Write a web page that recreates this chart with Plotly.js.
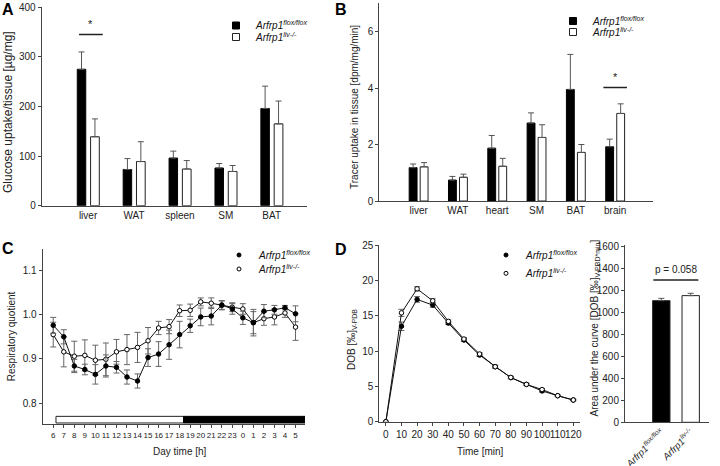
<!DOCTYPE html>
<html>
<head>
<meta charset="utf-8">
<script src="https://cdn.plot.ly/plotly-3.0.1.min.js"></script>
<style>html,body{margin:0;padding:0;background:#fff;}#chart{width:720px;height:466px;}</style>
</head>
<body>
<div id="chart"></div>
<script>
// ---------- Panel A: glucose uptake ----------
const tissuesA = ['liver', 'WAT', 'spleen', 'SM', 'BAT'];
const glucFlox = [275, 73, 96, 76, 196];
const glucFloxErr = [35, 22, 14, 9, 45];
const glucLiv = [139, 89, 74, 69, 165];
const glucLivErr = [36, 40, 17, 12, 46];

// ---------- Panel B: tracer uptake ----------
const tissuesB = ['liver', 'WAT', 'heart', 'SM', 'BAT', 'brain'];
const tracerFlox = [1.18, 0.74, 1.87, 2.76, 3.95, 1.92];
const tracerFloxErr = [0.13, 0.13, 0.45, 0.36, 1.24, 0.27];
const tracerLiv = [1.21, 0.84, 1.23, 2.25, 1.72, 3.10];
const tracerLivErr = [0.15, 0.11, 0.28, 0.45, 0.28, 0.34];

// ---------- Panel C: respiratory quotient ----------
const hours = ['6','7','8','9','10','11','12','13','14','15','16','17','18','19','20','21','22','23','0','1','2','3','4','5'];
const rqFlox = [0.976,0.950,0.884,0.876,0.865,0.884,0.881,0.859,0.850,0.903,0.911,0.932,0.955,0.975,0.995,0.997,1.022,1.013,0.993,0.982,1.008,1.011,1.016,1.002];
const rqFloxErr = [0.018,0.016,0.015,0.012,0.022,0.025,0.013,0.016,0.016,0.020,0.028,0.033,0.030,0.015,0.020,0.020,0.010,0.012,0.015,0.030,0.015,0.010,0.005,0.018];
const rqLiv = [0.955,0.916,0.906,0.908,0.897,0.899,0.916,0.921,0.926,0.941,0.970,0.973,1.009,1.010,1.029,1.026,1.021,1.017,1.013,0.982,0.991,0.995,1.004,0.972];
const rqLivErr = [0.028,0.034,0.034,0.035,0.034,0.037,0.028,0.034,0.034,0.030,0.015,0.016,0.013,0.014,0.009,0.012,0.010,0.010,0.012,0.025,0.015,0.018,0.010,0.030];

// ---------- Panel D: breath test ----------
const timeMin = [0,10,20,30,40,50,60,70,80,90,100,110,120];
const dobFlox = [0,13.5,17.3,16.5,13.95,11.55,9.43,7.78,6.23,5.28,4.35,3.68,3.07];
const dobFloxErr = [0,0.6,0.4,0.3,0.2,0.2,0.2,0.2,0.15,0.15,0.15,0.1,0.1];
const dobLiv = [0,15.4,18.8,17.1,14.2,11.7,9.58,7.78,6.27,5.28,4.55,3.68,3.07];
const dobLivErr = [0,0.5,0.3,0.3,0.2,0.2,0.2,0.2,0.15,0.15,0.15,0.1,0.1];
const aucGroups = ['<i>Arfrp1<sup>flox/flox</sup></i>', '<i>Arfrp1<sup>liv-/-</sup></i>'];
const aucValues = [1108, 1154];
const aucErr = [21, 21];

const nameFlox = '<i>Arfrp1<sup>flox/flox</sup></i>';
const nameLiv = '<i>Arfrp1<sup>liv-/-</sup></i>';

const FONT = 'Liberation Sans, Arial, Helvetica, sans-serif';
const W = 720, H = 466;
const px = v => v / W;
const py = v => 1 - v / H;
const ERR = '#555';

function errUp(arr, w) {
  return {type: 'data', symmetric: false, array: arr, arrayminus: arr.map(() => 0),
          color: ERR, thickness: 1, width: w};
}
function errSym(arr) {
  return {type: 'data', array: arr, color: '#666', thickness: 1, width: 3};
}
const idx = hours.map((h, i) => i);

const traces = [
  // A
  {type: 'bar', x: tissuesA, y: glucFlox, xaxis: 'x', yaxis: 'y', width: 0.185, offset: -0.235,
   marker: {color: '#000', line: {color: '#000', width: 1}}, error_y: errUp(glucFloxErr, 3), showlegend: false, name: 'flox A'},
  {type: 'bar', x: tissuesA, y: glucLiv, xaxis: 'x', yaxis: 'y', width: 0.19, offset: 0.055,
   marker: {color: '#fff', line: {color: '#222', width: 1}}, error_y: errUp(glucLivErr, 3), showlegend: false, name: 'liv A'},
  // B
  {type: 'bar', x: tissuesB, y: tracerFlox, xaxis: 'x2', yaxis: 'y2', width: 0.2, offset: -0.24,
   marker: {color: '#000', line: {color: '#000', width: 1}}, error_y: errUp(tracerFloxErr, 3), showlegend: false, name: 'flox B'},
  {type: 'bar', x: tissuesB, y: tracerLiv, xaxis: 'x2', yaxis: 'y2', width: 0.2, offset: 0.04,
   marker: {color: '#fff', line: {color: '#222', width: 1}}, error_y: errUp(tracerLivErr, 3), showlegend: false, name: 'liv B'},
  // C
  {type: 'scatter', mode: 'lines+markers', x: idx, y: rqLiv, xaxis: 'x3', yaxis: 'y3',
   line: {color: '#111', width: 1}, marker: {symbol: 'circle', size: 4.5, color: '#fff', line: {color: '#000', width: 1}},
   error_y: errSym(rqLivErr), showlegend: false, name: 'liv C'},
  {type: 'scatter', mode: 'lines+markers', x: idx, y: rqFlox, xaxis: 'x3', yaxis: 'y3',
   line: {color: '#111', width: 1}, marker: {symbol: 'circle', size: 4.5, color: '#000', line: {color: '#000', width: 1}},
   error_y: errSym(rqFloxErr), showlegend: false, name: 'flox C'},
  // D left
  {type: 'scatter', mode: 'lines+markers', x: timeMin, y: dobFlox, xaxis: 'x4', yaxis: 'y4',
   line: {color: '#111', width: 1}, marker: {symbol: 'circle', size: 4.5, color: '#000', line: {color: '#000', width: 1}},
   error_y: errSym(dobFloxErr), showlegend: false, name: 'flox D'},
  {type: 'scatter', mode: 'lines+markers', x: timeMin, y: dobLiv, xaxis: 'x4', yaxis: 'y4',
   line: {color: '#111', width: 1}, marker: {symbol: 'circle', size: 4.5, color: '#fff', line: {color: '#000', width: 1}},
   error_y: errSym(dobLivErr), showlegend: false, name: 'liv D'},
  // D right
  {type: 'bar', x: aucGroups, y: aucValues, xaxis: 'x5', yaxis: 'y5', width: 0.59,
   marker: {color: ['#000', '#fff'], line: {color: '#222', width: 1}}, error_y: errUp(aucErr, 3), showlegend: false, name: 'AUC'},
  // legend entries
  {type: 'scatter', mode: 'markers', x: [null], y: [null], xaxis: 'x', yaxis: 'y', name: nameFlox, legend: 'legend',
   marker: {symbol: 'square', size: 7, color: '#000', line: {color: '#000', width: 1}}},
  {type: 'scatter', mode: 'markers', x: [null], y: [null], xaxis: 'x', yaxis: 'y', name: nameLiv, legend: 'legend2',
   marker: {symbol: 'square', size: 7, color: '#fff', line: {color: '#222', width: 1}}},
  {type: 'scatter', mode: 'markers', x: [null], y: [null], xaxis: 'x2', yaxis: 'y2', name: nameFlox, legend: 'legend3',
   marker: {symbol: 'square', size: 7, color: '#000', line: {color: '#000', width: 1}}},
  {type: 'scatter', mode: 'markers', x: [null], y: [null], xaxis: 'x2', yaxis: 'y2', name: nameLiv, legend: 'legend4',
   marker: {symbol: 'square', size: 7, color: '#fff', line: {color: '#222', width: 1}}},
  {type: 'scatter', mode: 'markers', x: [null], y: [null], xaxis: 'x3', yaxis: 'y3', name: nameFlox, legend: 'legend5',
   marker: {symbol: 'circle', size: 4, color: '#000', line: {color: '#000', width: 1}}},
  {type: 'scatter', mode: 'markers', x: [null], y: [null], xaxis: 'x3', yaxis: 'y3', name: nameLiv, legend: 'legend6',
   marker: {symbol: 'circle', size: 4, color: '#fff', line: {color: '#000', width: 1}}},
  {type: 'scatter', mode: 'markers', x: [null], y: [null], xaxis: 'x4', yaxis: 'y4', name: nameFlox, legend: 'legend7',
   marker: {symbol: 'circle', size: 4, color: '#000', line: {color: '#000', width: 1}}},
  {type: 'scatter', mode: 'markers', x: [null], y: [null], xaxis: 'x4', yaxis: 'y4', name: nameLiv, legend: 'legend8',
   marker: {symbol: 'circle', size: 4, color: '#fff', line: {color: '#000', width: 1}}}
];

function axis(extra) {
  return Object.assign({
    showline: true, linecolor: '#444', linewidth: 1, showgrid: false, zeroline: false,
    ticks: 'outside', ticklen: 3, tickcolor: '#444', tickwidth: 1, tickangle: 0,
    tickfont: {family: FONT, size: 10, color: '#222'}, fixedrange: true
  }, extra);
}
function leg(left, cy) {
  return {x: px(left), y: py(cy), xanchor: 'left', yanchor: 'middle', bgcolor: 'rgba(0,0,0,0)',
          borderwidth: 0, font: {family: FONT, size: 10, color: '#111'}};
}
function label(text, cx, cy, size, angle, bold) {
  return {text: text, xref: 'paper', yref: 'paper', x: px(cx), y: py(cy), xanchor: 'center', yanchor: 'middle',
          showarrow: false, textangle: angle || 0, font: {family: FONT, size: size, color: bold ? '#000' : '#222'}};
}

const layout = {
  width: W, height: H, margin: {l: 0, r: 0, t: 0, b: 0},
  paper_bgcolor: '#fff', plot_bgcolor: '#fff', barmode: 'overlay',
  font: {family: FONT, color: '#222'},
  // A
  xaxis: axis({domain: [px(41.7), px(307)], range: [-1.01, 4.77], type: 'category', ticks: '', anchor: 'y'}),
  yaxis: axis({domain: [py(205.7), py(7.3)], range: [0, 400], dtick: 100, anchor: 'x'}),
  // B
  xaxis2: axis({domain: [px(379.3), px(653.3)], range: [-1.0, 5.97], type: 'category', ticks: '', anchor: 'y2'}),
  yaxis2: axis({domain: [py(201), py(3.3)], range: [0, 7], tickvals: [0, 2, 4, 6], anchor: 'x2'}),
  // C
  xaxis3: axis({domain: [px(42.7), px(305)], range: [-1.0, 23.9], tickvals: idx, ticktext: hours, anchor: 'y3',
                tickfont: {family: FONT, size: 8, color: '#222'}}),
  yaxis3: axis({domain: [py(424.3), py(249.3)], range: [0.752, 1.148], tickvals: [0.8, 0.9, 1.0, 1.1], tickformat: '.1f',
                anchor: 'x3'}),
  // D left
  xaxis4: axis({domain: [px(379.3), px(580)], range: [-4.2, 124.3], dtick: 10, anchor: 'y4'}),
  yaxis4: axis({domain: [py(421.7), py(245)], range: [0, 25], dtick: 5, anchor: 'x4'}),
  // D right
  xaxis5: axis({domain: [px(625), px(709.3)], range: [-1.235, 1.633], type: 'category', ticks: '', tickangle: -45, anchor: 'y5',
                tickfont: {family: FONT, size: 9.5, color: '#222'}}),
  yaxis5: axis({domain: [py(422.3), py(245)], range: [0, 1615], dtick: 200, anchor: 'x5'}),
  legend: leg(216, 25.5), legend2: leg(216, 37),
  legend3: leg(553, 21), legend4: leg(553, 32),
  legend5: leg(219, 255), legend6: leg(219, 269),
  legend7: leg(486, 255), legend8: leg(486, 273.3),
  shapes: [
    {type: 'line', xref: 'x', yref: 'y', x0: -0.196, x1: 0.32, y0: 345, y1: 345, line: {color: '#222', width: 1.5}},
    {type: 'line', xref: 'x2', yref: 'y2', x0: 4.70, x1: 5.30, y0: 4.02, y1: 4.02, line: {color: '#222', width: 1.5}},
    {type: 'line', xref: 'x5', yref: 'y5', x0: -0.27, x1: 1.26, y0: 1296, y1: 1296, line: {color: '#222', width: 1.5}},
    {type: 'rect', xref: 'x3', yref: 'y3', x0: 0.26, x1: 12.37, y0: 0.755, y1: 0.770, fillcolor: '#fff', line: {color: '#222', width: 1}},
    {type: 'rect', xref: 'x3', yref: 'y3', x0: 12.37, x1: 23.9, y0: 0.755, y1: 0.770, fillcolor: '#000', line: {color: '#000', width: 1}}
  ],
  annotations: [
    label('<b>A</b>', 7.5, 10, 16, 0, true),
    label('<b>B</b>', 341, 10, 16, 0, true),
    label('<b>C</b>', 7.5, 248, 16, 0, true),
    label('<b>D</b>', 341, 249, 16, 0, true),
    // axis titles
    label('Glucose uptake/tissue [µg/mg]', 8, 112, 12, -90),
    label('Tracer uptake in tissue [dpm/mg/min]', 355, 107, 10, -90),
    label('Respiratory quotient', 11.7, 336.5, 10, -90),
    label('Day time [h]', 180, 451.7, 10, 0),
    label('DOB [‰]<sub>V-PDB</sub>', 352, 340, 10, -90),
    label('Time [min]', 480, 451.7, 10, 0),
    label('Area under the curve [DOB [‰]<sub>V-PBD*min</sub>]', 594, 328.5, 10, -90),
    // significance marks
    {text: '*', xref: 'x', yref: 'y', x: 0.06, y: 350, yanchor: 'bottom', showarrow: false, font: {family: FONT, size: 11, color: '#222'}},
    {text: '*', xref: 'x2', yref: 'y2', x: 5.0, y: 4.1, yanchor: 'bottom', showarrow: false, font: {family: FONT, size: 11, color: '#222'}},
    {text: 'p = 0.058', xref: 'x5', yref: 'y5', x: 0.5, y: 1320, yanchor: 'bottom', showarrow: false, font: {family: FONT, size: 10, color: '#222'}}
  ]
};

Plotly.newPlot('chart', traces, layout, {staticPlot: true, displayModeBar: false});
</script>
</body>
</html>
